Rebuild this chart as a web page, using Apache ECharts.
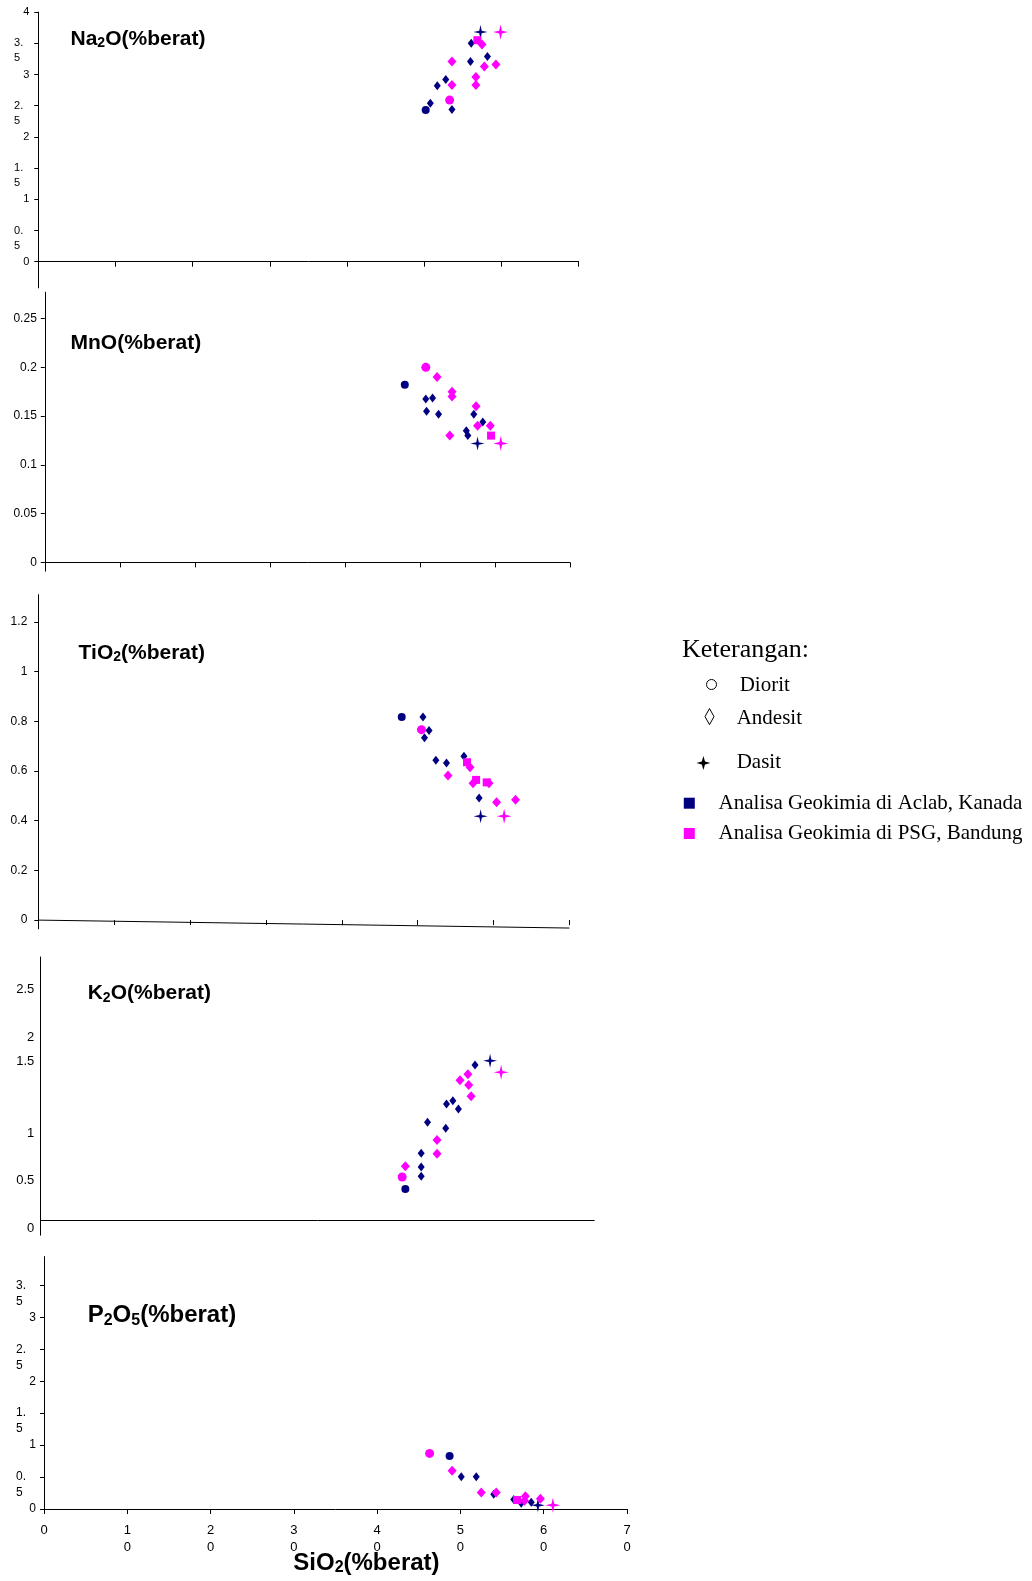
<!DOCTYPE html>
<html>
<head>
<meta charset="utf-8">
<title>Diagram Harker SiO2</title>
<script src="https://cdn.jsdelivr.net/npm/echarts@6/dist/echarts.min.js"></script>
<style>
html,body{margin:0;padding:0;background:#fff;}
#main{width:1032px;height:1581px;}
</style>
</head>
<body>
<div id="main"></div>
<script>
// [SiO2, oksida, jenis]  D = Diorit, A = Andesit, S = Dasit, K = kotak
var na2oAclab = [[57.3,3.68,'S'],[56.1,3.50,'A'],[58.2,3.29,'A'],[56.0,3.21,'A'],[52.8,2.92,'A'],
                 [51.7,2.82,'A'],[50.8,2.54,'A'],[50.2,2.43,'D'],[53.6,2.44,'A']];
var na2oPsg   = [[59.9,3.68,'S'],[56.9,3.55,'K'],[57.5,3.48,'A'],[53.6,3.21,'A'],[57.8,3.13,'A'],
                 [59.3,3.16,'A'],[53.6,2.83,'A'],[56.7,2.96,'A'],[56.7,2.83,'A'],[53.3,2.59,'D']];

var mnoAclab = [[48.0,0.182,'D'],[50.8,0.1675,'A'],[51.7,0.1685,'A'],[50.9,0.155,'A'],[52.5,0.152,'A'],
                [57.2,0.152,'A'],[58.4,0.144,'A'],[56.2,0.135,'A'],[56.4,0.130,'A'],[57.7,0.122,'S']];
var mnoPsg   = [[50.8,0.200,'D'],[52.3,0.190,'A'],[54.3,0.175,'A'],[54.3,0.170,'A'],[57.5,0.160,'A'],
                [57.7,0.140,'A'],[59.4,0.140,'A'],[54.0,0.130,'A'],[59.5,0.130,'K'],[60.8,0.122,'S']];

var tio2Aclab = [[47.9,0.817,'D'],[50.7,0.817,'A'],[51.5,0.763,'A'],[50.9,0.734,'A'],[52.4,0.643,'A'],
                 [53.8,0.632,'A'],[56.1,0.659,'A'],[58.1,0.491,'A'],[58.3,0.418,'S']];
var tio2Psg   = [[50.5,0.766,'D'],[56.5,0.635,'K'],[56.9,0.615,'A'],[54.0,0.582,'A'],[57.3,0.551,'A'],
                 [57.7,0.564,'K'],[59.1,0.554,'K'],[59.4,0.551,'A'],[60.4,0.474,'A'],[62.9,0.484,'A'],
                 [61.4,0.418,'S']];

var k2oAclab = [[54.9,1.712,'A'],[56.8,1.757,'S'],[52.1,1.338,'A'],[51.3,1.304,'A'],[52.8,1.251,'A'],
                [48.9,1.112,'A'],[51.2,1.049,'A'],[48.1,0.787,'A'],[48.1,0.644,'A'],[48.1,0.547,'A'],
                [46.1,0.414,'D']];
var k2oPsg   = [[58.2,1.636,'S'],[54.0,1.615,'A'],[53.0,1.552,'A'],[54.1,1.503,'A'],[54.4,1.384,'A'],
                [50.1,0.927,'A'],[50.1,0.783,'A'],[46.1,0.651,'A'],[45.7,0.539,'D']];

var p2o5Aclab = [[48.7,0.83,'D'],[50.1,0.505,'A'],[51.9,0.505,'A'],[54.0,0.23,'A'],[56.4,0.15,'A'],
                 [57.3,0.09,'A'],[58.5,0.105,'A'],[59.3,0.06,'S']];
var p2o5Psg   = [[46.3,0.87,'D'],[49.0,0.60,'A'],[52.5,0.26,'A'],[54.3,0.26,'A'],[56.8,0.14,'K'],
                 [57.8,0.20,'A'],[57.7,0.13,'A'],[59.6,0.16,'A'],[61.1,0.06,'S']];

// sumbu
var sio2Ticks = [0,10,20,30,40,50,60,70];
var na2oTicks = [0,0.5,1,1.5,2,2.5,3,3.5,4];
var mnoTicks = [0,0.05,0.1,0.15,0.2,0.25];
var tio2Ticks = [0,0.2,0.4,0.6,0.8,1,1.2];
var k2oTickValues = [0,0.5,1,1.75,2,2.5];
var k2oTickLabels = ['0','0.5','1','1.5','2','2.5'];
var p2o5Ticks = [0,0.5,1,1.5,2,2.5,3,3.5];

var navy = '#000080', pink = '#ff00ff';
var starPath = 'path://M0,-10 L1.8,-1.8 L10,0 L1.8,1.8 L0,10 L-1.8,1.8 L-10,0 L-1.8,-1.8 Z';
var kinds = {
    D: {symbol:'circle', aclab:8, psg:9},
    A: {symbol:'diamond', aclab:[7,9], psg:[9,10]},
    S: {symbol:starPath, aclab:14, psg:15},
    K: {symbol:'rect', aclab:7, psg:8}
};

function makeSeries(idx, rows, lab){
    var out = [];
    ['D','A','K','S'].forEach(function(k){
        var pts = rows.filter(function(r){ return r[2]==k; }).map(function(r){ return [r[0], r[1]]; });
        if(!pts.length) return;
        out.push({
            type:'scatter', xAxisIndex:idx, yAxisIndex:idx, data:pts,
            symbol:kinds[k].symbol, symbolSize:kinds[k][lab],
            itemStyle:{color: lab=='aclab' ? navy : pink, opacity:1},
            emphasis:{disabled:true}, silent:true
        });
    });
    return out;
}

// label bertingkat seperti "3.\n5"
function wrapY(pad){
    return function(v){
        var s = String(v);
        if(s.indexOf('.')<0) return s;
        var p = s.split('.');
        return ' \n'+p[0]+'.'+pad+'\n'+p[1]+' '+pad;
    };
}
function wrapX(v){
    return String(v).split('').join('\n');
}

var black = {color:'#000', width:1};
var labelFont = {color:'#000', fontFamily:'Liberation Sans', fontSize:12};

function xAx(idx, extra){
    var a = {gridIndex:idx, type:'value', min:0, max:70, interval:10,
        splitLine:{show:false},
        axisLine:{onZero:true, lineStyle:black},
        axisTick:{show:true, length:5, lineStyle:black},
        axisLabel:{show:false}};
    for(var k in extra) a[k] = extra[k];
    return a;
}
function yAx(idx, min, max, ticks, label, tick){
    var lab = {customValues:ticks};
    for(var k in labelFont) lab[k] = labelFont[k];
    for(var k in label) lab[k] = label[k];
    return {gridIndex:idx, type:'value', min:min, max:max,
        splitLine:{show:false},
        axisLine:{show:true, onZero:false, lineStyle:black},
        axisTick:tick || {show:true, length:4, customValues:ticks, lineStyle:black},
        axisLabel:lab};
}

var series = [];
series = series.concat(makeSeries(0, na2oAclab, 'aclab'), makeSeries(0, na2oPsg, 'psg'));
series = series.concat(makeSeries(1, mnoAclab, 'aclab'), makeSeries(1, mnoPsg, 'psg'));
series = series.concat(makeSeries(2, tio2Aclab, 'aclab'), makeSeries(2, tio2Psg, 'psg'));
series = series.concat(makeSeries(3, k2oAclab, 'aclab'), makeSeries(3, k2oPsg, 'psg'));
series = series.concat(makeSeries(4, p2o5Aclab, 'aclab'), makeSeries(4, p2o5Psg, 'psg'));

function axisLineSeries(idx, from, to){
    return {type:'line', xAxisIndex:idx, yAxisIndex:idx, data:[], silent:true,
        markLine:{silent:true, symbol:'none', animation:false, label:{show:false},
            emphasis:{disabled:true},
            lineStyle:{color:'#000', width:1, type:'solid'},
            data:[[{coord:from},{coord:to}]]}};
}
// sumbu x TiO2 yang miring dan garis sumbu x K2O
series.push(axisLineSeries(2, [0,0], [70,-0.032]));
series.push(axisLineSeries(3, [0,0.085], [70,0.085]));

// parts: [['b','Na'],['s','2'],...]  b = teks biasa, s = subskrip
function oxideTitle(x, y, parts, size){
    var subSize = Math.round(size*0.65);
    var text = parts.map(function(p){ return '{'+p[0]+'|'+p[1]+'}'; }).join('');
    return {type:'text', x:x, y:y, silent:true, style:{
        text:text, verticalAlign:'middle', align:'left',
        rich:{
            b:{fontSize:size, fontWeight:'bold', fontFamily:'Liberation Sans', fill:'#000'},
            s:{fontSize:subSize, fontWeight:'bold', fontFamily:'Liberation Sans', fill:'#000', padding:[Math.round(size*0.4),0,0,0]}
        }}};
}
function legendText(x, y, text, size){
    return {type:'text', x:x, y:y, silent:true, style:{text:text, fill:'#000',
        font:size+'px "Liberation Serif"', verticalAlign:'middle', align:'left'}};
}

var graphics = [
    oxideTitle(70.5, 39.3, [['b','Na'],['s','2'],['b','O(%berat)']], 21),
    oxideTitle(70.5, 343.7, [['b','MnO(%berat)']], 21),
    oxideTitle(78.6, 653, [['b','TiO'],['s','2'],['b','(%berat)']], 21),
    oxideTitle(87.7, 993.7, [['b','K'],['s','2'],['b','O(%berat)']], 21),
    oxideTitle(87.7, 1315.2, [['b','P'],['s','2'],['b','O'],['s','5'],['b','(%berat)']], 24),
    oxideTitle(293.3, 1563, [['b','SiO'],['s','2'],['b','(%berat)']], 24),

    legendText(682, 650, 'Keterangan:', 26),
    {type:'circle', silent:true, shape:{cx:711.5, cy:684.5, r:5}, style:{fill:'#fff', stroke:'#000', lineWidth:1}},
    legendText(739.7, 685.5, 'Diorit', 21),
    {type:'polygon', silent:true, shape:{points:[[709.5,708.5],[714,716.6],[709.5,724.7],[705,716.6]]},
        style:{fill:'#fff', stroke:'#000', lineWidth:1}},
    legendText(736.7, 718.6, 'Andesit', 21),
    {type:'polygon', silent:true, shape:{points:[[703.4,756],[705,761.4],[710.4,763],[705,764.6],
        [703.4,770],[701.8,764.6],[696.4,763],[701.8,761.4]]}, style:{fill:'#000'}},
    legendText(736.7, 762, 'Dasit', 21),
    {type:'rect', silent:true, shape:{x:683.8, y:797.7, width:11, height:11}, style:{fill:navy}},
    legendText(718.6, 803.2, 'Analisa Geokimia di Aclab, Kanada', 21),
    {type:'rect', silent:true, shape:{x:683.8, y:828, width:11, height:11}, style:{fill:pink}},
    legendText(718.6, 833.5, 'Analisa Geokimia di PSG, Bandung', 21)
];

var option = {
    animation:false,
    backgroundColor:'#fff',
    grid:[
        {left:38.3, top:12.1, width:540.2, height:275.8, outerBoundsMode:'none'},
        {left:44.8, top:292.2, width:525, height:279, outerBoundsMode:'none'},
        {left:38.3, top:594.7, width:531.1, height:334.1, outerBoundsMode:'none'},
        {left:40.3, top:957, width:554.3, height:278.2, outerBoundsMode:'none'},
        {left:44, top:1256.6, width:583, height:252.4, outerBoundsMode:'none'}
    ],
    xAxis:[
        xAx(0, {}),
        xAx(1, {}),
        xAx(2, {axisLine:{show:false, onZero:true}, axisTick:{show:true, length:5, inside:false, lineStyle:black}}),
        xAx(3, {axisLine:{show:false}, axisTick:{show:false}}),
        xAx(4, {axisLabel:{show:true, margin:13, lineHeight:17, color:'#000', fontFamily:'Liberation Sans',
            fontSize:13, formatter:wrapX}})
    ],
    yAxis:[
        yAx(0, -0.42, 4, na2oTicks, {margin:9, lineHeight:15, fontSize:11, formatter:wrapY('  ')}),
        yAx(1, -0.009, 0.277, mnoTicks, {margin:8}),
        yAx(2, -0.035, 1.309, tio2Ticks, {margin:11}),
        yAx(3, -0.07, 2.843, k2oTickValues, {margin:6, fontSize:13, formatter:function(v){
            var i = k2oTickValues.indexOf(v);
            return i>=0 ? k2oTickLabels[i] : '';
        }}, {show:false}),
        yAx(4, 0, 3.95, p2o5Ticks, {margin:8, lineHeight:16, fontSize:12, formatter:wrapY('   ')})
    ],
    series:series,
    graphic:graphics
};

var chart = echarts.init(document.getElementById('main'));
chart.setOption(option);
</script>
</body>
</html>
